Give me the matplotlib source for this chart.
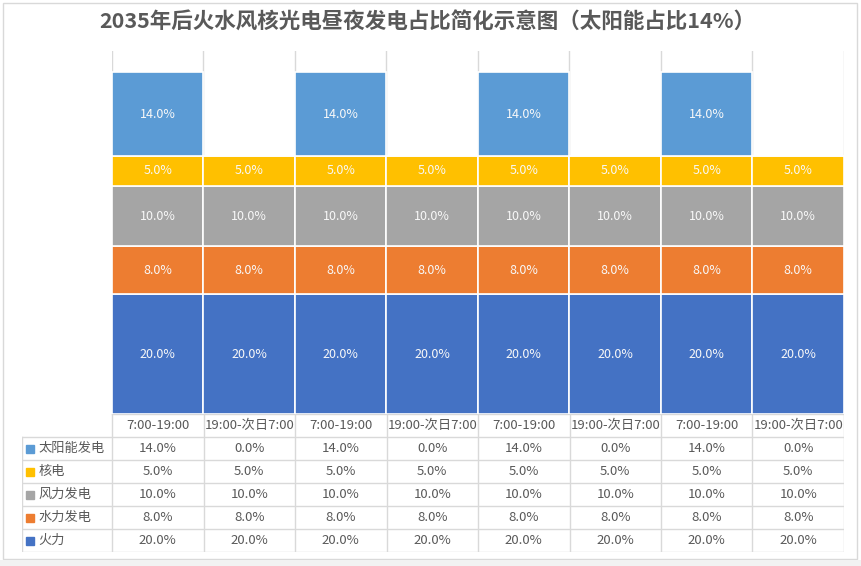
import numpy as np
import matplotlib
matplotlib.use('Agg')
import matplotlib.pyplot as plt
from matplotlib.patches import Rectangle

plt.rcParams['font.family'] = ['Noto Sans CJK SC', 'DejaVu Sans']

title = '2035年后火水风核光电昼夜发电占比简化示意图（太阳能占比14%）'
periods = ['7:00-19:00', '19:00-次日7:00'] * 4

# stacking order, bottom first
series = ['火力', '水力发电', '风力发电', '核电', '太阳能发电']
huoli = [20, 20, 20, 20, 20, 20, 20, 20]
shuili = [8, 8, 8, 8, 8, 8, 8, 8]
fengli = [10, 10, 10, 10, 10, 10, 10, 10]
hedian = [5, 5, 5, 5, 5, 5, 5, 5]
taiyang = [14, 0, 14, 0, 14, 0, 14, 0]
values = [huoli, shuili, fengli, hedian, taiyang]
colors = ['#4472C4', '#ED7D31', '#A5A5A5', '#FFC000', '#5B9BD5']

W, H = 862, 566
grid_c = '#D9D9D9'
text_c = '#595959'

def fx(px):
    return px / W

def fy(py):
    return 1 - py / H

fig = plt.figure(figsize=(W / 100, H / 100), dpi=100)
fig.patch.set_facecolor('white')

# chart border + grey strip under it
fig.add_artist(Rectangle((fx(3), fy(559)), fx(857) - fx(3), fy(3) - fy(559),
                         transform=fig.transFigure, fill=False, edgecolor=grid_c, lw=1))
fig.add_artist(Rectangle((0, 0), 1, fy(560), transform=fig.transFigure,
                         facecolor='#F2F2F2', edgecolor='none'))

fig.text(fx(427), fy(22), title, ha='center', va='center', fontsize=15.5,
         fontweight='bold', color=text_c)

x_left, x_right = 112, 844
col_w = (x_right - x_left) / 8
top, base, tab_bottom, lab_left = 51, 414, 552, 22

# bars
ax = fig.add_axes([fx(x_left), fy(base), fx(x_right) - fx(x_left), fy(top) - fy(base)])
x = np.arange(len(periods))
ax.set_xlim(-0.5, 7.5)
ax.set_ylim(0, (base - top) / 6)
for b in np.arange(-0.5, 8, 1):
    ax.axvline(b, color=grid_c, lw=1, zorder=0)
bottom = np.zeros(len(periods))
for name, vals, c in zip(series, values, colors):
    vals = np.array(vals, dtype=float)
    ax.bar(x, vals, width=1.0, bottom=bottom, color=c, edgecolor='white', lw=1.2, zorder=2)
    for xi, v, b0 in zip(x, vals, bottom):
        if v > 0:
            ax.text(xi, b0 + v / 2, f'{v:.1f}%', ha='center', va='center',
                    fontsize=9, color='#F8F8F8', zorder=3)
    bottom += vals
ax.axis('off')

# data table
tab = fig.add_axes([fx(lab_left), fy(tab_bottom), fx(x_right) - fx(lab_left),
                    fy(base) - fy(tab_bottom)])
xl = -0.5 - (x_left - lab_left) / col_w
tab.set_xlim(xl, 7.5)
tab.set_ylim(6, 0)
tab.axis('off')
lw = 1
tab.plot([-0.5, 7.5], [0, 0], color=grid_c, lw=lw)
for r in range(1, 7):
    tab.plot([xl, 7.5], [r, r], color=grid_c, lw=lw)
tab.plot([xl, xl], [1, 6], color=grid_c, lw=lw)
for b in np.arange(-0.5, 8, 1):
    tab.plot([b, b], [0, 6], color=grid_c, lw=lw)
for i, p in enumerate(periods):
    tab.text(i, 0.5, p, ha='center', va='center', fontsize=9.5, color=text_c)
rows = list(zip(series, values, colors))[::-1]
for r, (name, vals, c) in enumerate(rows, start=1):
    tab.plot([xl + 0.09], [r + 0.5], marker='s', ms=5.5, color=c, ls='none')
    tab.text(xl + 0.18, r + 0.5, name, ha='left', va='center', fontsize=9.5, color=text_c)
    for i, v in enumerate(vals):
        tab.text(i, r + 0.5, f'{v:.1f}%', ha='center', va='center', fontsize=9.5, color=text_c)

fig.savefig('out.png', dpi=100)
